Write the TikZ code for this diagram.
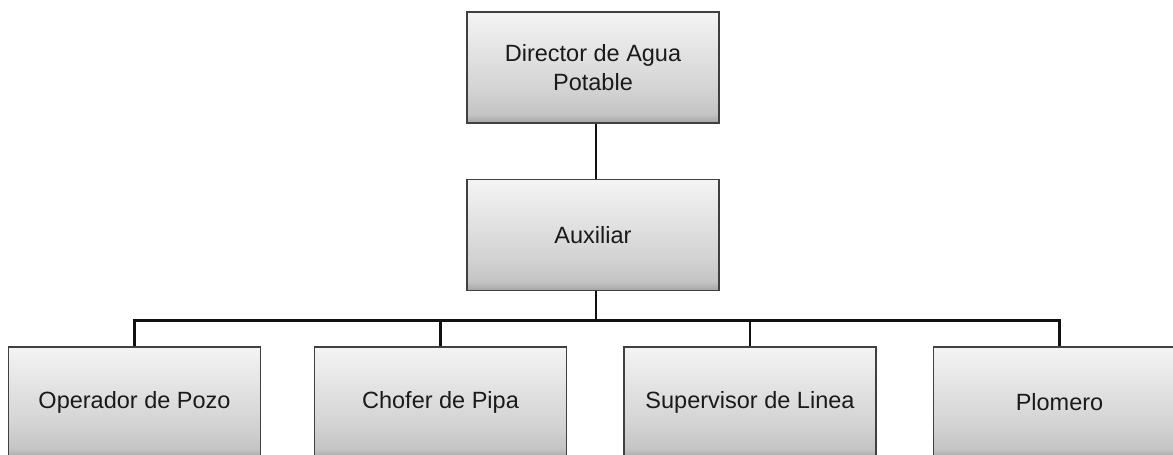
\documentclass[tikz,border=0pt]{standalone}
\usepackage{fontspec}
\setmainfont{Liberation Sans}
\definecolor{shA}{HTML}{A4A4A4}
\definecolor{shB}{HTML}{C4C4C4}
\definecolor{shC}{HTML}{D3D3D3}
\definecolor{shD}{HTML}{F4F4F4}
\definecolor{borde}{HTML}{404040}
\definecolor{linea}{HTML}{111111}
\definecolor{texto}{HTML}{1A1A1A}
\pgfdeclareverticalshading{cajashade}{100bp}{color(0bp)=(shA); color(25bp)=(shA); color(29bp)=(shB); color(40bp)=(shC); color(75bp)=(shD); color(100bp)=(shD)}
\tikzset{
  caja/.style={rectangle, draw=borde, line width=1.3pt, shading=cajashade,
    minimum width=252pt, minimum height=111pt, inner sep=0pt,
    align=center, text=texto, font=\fontsize{23.5}{29}\selectfont},
  conector/.style={draw=linea, line width=2.7pt}
}
\begin{document}
\begin{tikzpicture}[x=1pt,y=-1pt]
\clip (0,0) rectangle (1173,455);
\fill[white] (0,0) rectangle (1173,455);
\node[caja] (dir) at (593,67.5) {Director de Agua\\Potable};
\node[caja] (aux) at (593,235) {Auxiliar};
\node[caja] (op)  at (134.5,402.5) {Operador de Pozo};
\node[caja] (ch)  at (440.5,402.5) {Chofer de Pipa};
\node[caja] (sup) at (750,402.5) {Supervisor de Linea};
\node[caja] (plo) at (1059.5,402.5) {Plomero};
\draw[conector] ([xshift=3pt]dir.south) -- ([xshift=3pt]aux.north);
\draw[conector] ([xshift=3pt]aux.south) -- ++(0,29) coordinate (bus);
\draw[conector] (op.north) -- (op.north |- bus) -- (plo.north |- bus) -- (plo.north);
\draw[conector] (ch.north) -- (ch.north |- bus);
\draw[conector] (sup.north) -- (sup.north |- bus);
\end{tikzpicture}
\end{document}
